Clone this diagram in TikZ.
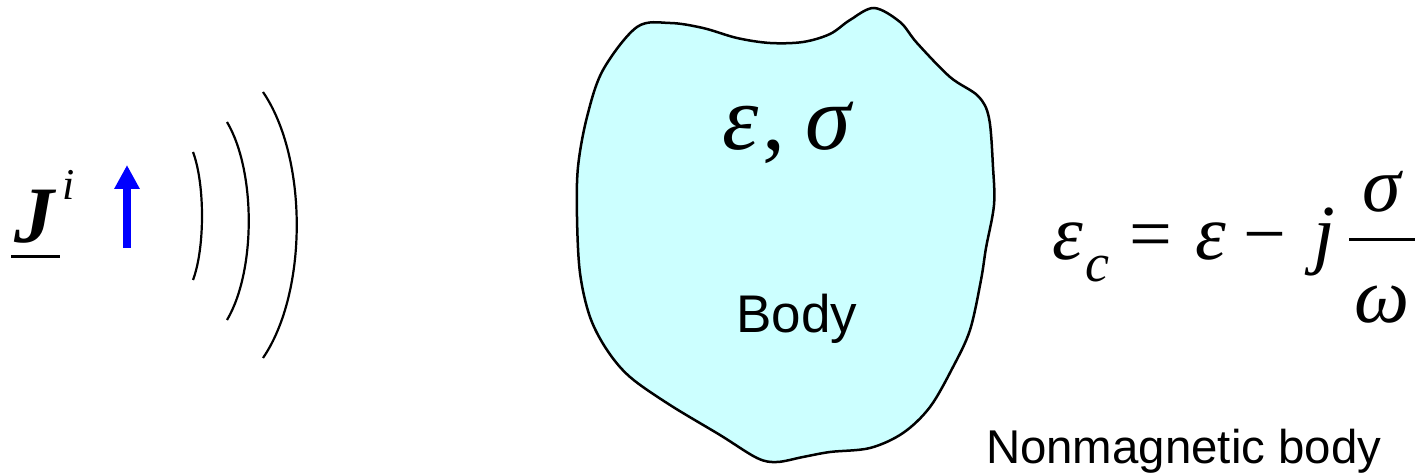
\documentclass[tikz,border=0pt]{standalone}
\usepackage{fontspec}
\setmainfont{Liberation Serif}
\newfontfamily\arialf{Liberation Sans}
\usetikzlibrary{arrows.meta}
\definecolor{bodycyan}{RGB}{204,255,255}
\tikzset{
  glyph/.style={inner sep=0pt, outer sep=0pt, anchor=base},
  wave/.style={line width=1.1pt, black},
  outline/.style={line width=1.25pt, black, fill=bodycyan},
  bigmath/.style={glyph, font=\fontsize{46}{50}\selectfont\itshape},
  eqmath/.style={glyph, font=\fontsize{39}{42}\selectfont\itshape},
  eqrm/.style={glyph, font=\fontsize{38}{42}\selectfont},
  sans/.style={inner sep=0pt, outer sep=0pt, font=\arialf}
}
\begin{document}
\begin{tikzpicture}[x=0.5pt,y=-0.5pt]
\useasboundingbox (0,0) rectangle (1420,475);
% Body outline
\draw[outline] plot[smooth cycle, tension=0.55] coordinates {
 (603,70) (637,27) (670,23) (703,28) (737,38) (770,43) (803,42) (830,34) (850,20) (874,8)
 (900,22) (917,43) (950,77) (978,96) (989,118) (993,167) (994,205) (986,248) (981,280) (970,330)
 (953,367) (930,407) (903,433) (870,448) (830,452) (803,457) (777,462) (757,458) (720,435)
 (670,405) (630,377) (607,350) (590,317) (580,273) (577,217) (578,167) (587,117)};
% source J^i
\node[glyph, font=\fontsize{40}{44}\selectfont\bfseries\itshape] (J) at (35,243) {J};
\node[glyph, font=\fontsize{22}{24}\selectfont\itshape] (Jsup) at (69,200) {i};
\coordinate (ul1) at (11,257);
\coordinate (ul2) at (60,257);
\draw[line width=1.5pt] (ul1) -- (ul2);
% blue arrow
\coordinate (arrA) at (127,248);
\coordinate (arrB) at (127,165);
\draw[line width=4pt, blue, -{Triangle[length=12pt,width=12pt]}] (arrA) -- (arrB);
% waves
\coordinate (w1a) at (193,152); \coordinate (w1b) at (193,280);
\coordinate (w2a) at (227,122); \coordinate (w2b) at (227,320);
\coordinate (w3a) at (263,92);  \coordinate (w3b) at (263,358);
\draw[wave] (w1a) .. controls (205,184) and (205,248) .. (w1b);
\draw[wave] (w2a) .. controls (256,171) and (256,271) .. (w2b);
\draw[wave] (w3a) .. controls (308,158) and (308,292) .. (w3b);
% eps, sigma in body
\node[bigmath] (e1) at (741,150) {ε};
\node[glyph, font=\fontsize{46}{50}\selectfont] (cm) at (774,150) {,};
\node[bigmath] (s1) at (828,150) {σ};
\node[sans, anchor=base, font=\arialf\fontsize{26.5}{30}\selectfont] (body) at (797,333) {Body};
% equation
\node[eqmath] (ec) at (1068,260) {ε};
\node[glyph, font=\fontsize{27}{30}\selectfont\itshape] (sub) at (1097,282) {c};
\node[eqrm] (eq) at (1151,260) {=};
\node[eqmath] (e2) at (1211,260) {ε};
\node[eqrm] (mi) at (1265,260) {−};
\node[eqmath] (jj) at (1324,260) {j};
\coordinate (fb1) at (1349,240);
\coordinate (fb2) at (1415,240);
\draw[line width=1.5pt] (fb1) -- (fb2);
\node[eqmath] (sn) at (1382,212) {σ};
\node[eqmath] (om) at (1382,323) {ω};
% caption
\node[sans, anchor=base west, font=\arialf\fontsize{23.7}{27}\selectfont] (cap) at (986,464) {Nonmagnetic body};
\end{tikzpicture}
\end{document}
